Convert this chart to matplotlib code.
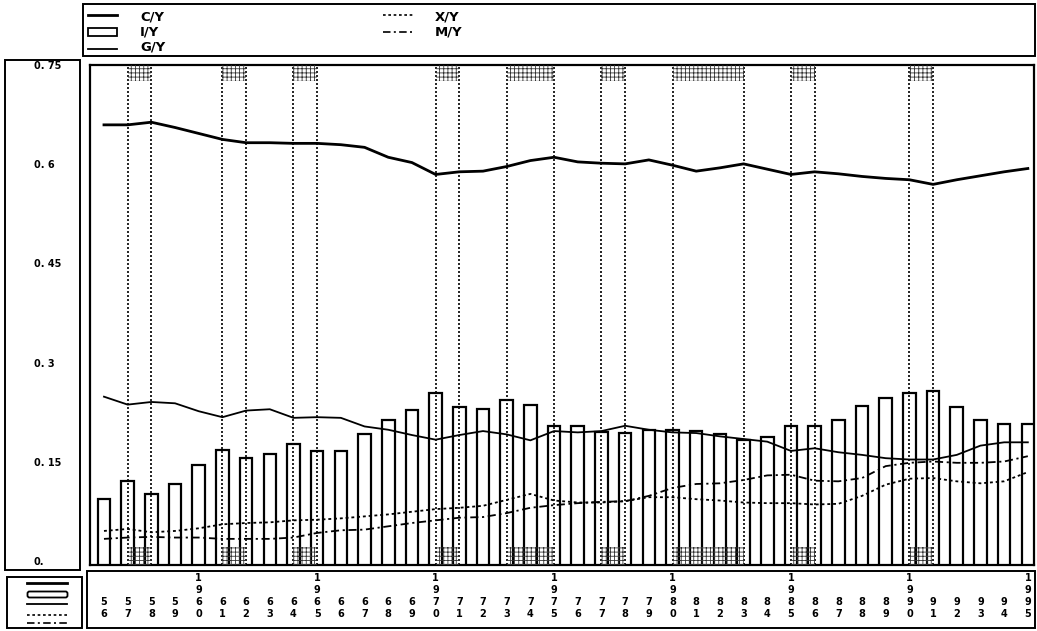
import matplotlib
matplotlib.use("Agg")
import matplotlib.pyplot as plt
import matplotlib.transforms as mtransforms
from matplotlib.patches import Rectangle, FancyBboxPatch
from matplotlib.lines import Line2D
import numpy as np

# ---- data: shares of output, 1956-1995 ----
years = list(range(1956, 1996))
c_y = [0.661, 0.661, 0.665, 0.657, 0.648, 0.639, 0.634, 0.634, 0.633, 0.633,
       0.631, 0.627, 0.612, 0.604, 0.586, 0.590, 0.591, 0.598, 0.607, 0.612,
       0.605, 0.603, 0.602, 0.608, 0.600, 0.591, 0.596, 0.602, 0.594, 0.586,
       0.590, 0.587, 0.583, 0.580, 0.578, 0.571, 0.578, 0.584, 0.590, 0.595]
i_y = [0.095, 0.122, 0.103, 0.118, 0.146, 0.170, 0.157, 0.163, 0.178, 0.168,
       0.168, 0.193, 0.214, 0.230, 0.256, 0.235, 0.231, 0.245, 0.237, 0.205,
       0.205, 0.197, 0.195, 0.200, 0.200, 0.198, 0.194, 0.185, 0.189, 0.205,
       0.205, 0.215, 0.236, 0.248, 0.256, 0.258, 0.235, 0.215, 0.208, 0.209]
g_y = [0.250, 0.238, 0.242, 0.240, 0.228, 0.219, 0.229, 0.231, 0.218, 0.219,
       0.218, 0.205, 0.200, 0.192, 0.185, 0.192, 0.198, 0.193, 0.184, 0.198,
       0.196, 0.198, 0.206, 0.200, 0.196, 0.195, 0.190, 0.186, 0.182, 0.168,
       0.172, 0.166, 0.162, 0.157, 0.155, 0.155, 0.162, 0.176, 0.181, 0.181]
x_y = [0.047, 0.050, 0.045, 0.047, 0.051, 0.057, 0.059, 0.060, 0.063, 0.064,
       0.066, 0.069, 0.072, 0.076, 0.080, 0.082, 0.085, 0.094, 0.103, 0.093,
       0.090, 0.090, 0.092, 0.098, 0.098, 0.095, 0.093, 0.090, 0.089, 0.089,
       0.087, 0.088, 0.100, 0.117, 0.126, 0.127, 0.122, 0.119, 0.122, 0.136]
m_y = [0.035, 0.037, 0.038, 0.037, 0.037, 0.035, 0.035, 0.035, 0.037, 0.044,
       0.048, 0.049, 0.054, 0.059, 0.063, 0.067, 0.068, 0.074, 0.082, 0.086,
       0.089, 0.091, 0.092, 0.100, 0.112, 0.118, 0.119, 0.124, 0.131, 0.132,
       0.123, 0.122, 0.127, 0.145, 0.150, 0.152, 0.150, 0.150, 0.152, 0.160]

# downturn periods (start, end years)
rec_start = [1957, 1961, 1964, 1970, 1973, 1977, 1980, 1985, 1990]
rec_end = [1958, 1962, 1965, 1971, 1975, 1978, 1983, 1986, 1991]

y_ticks = [0.0, 0.15, 0.3, 0.45, 0.6, 0.75]
y_tick_labels = ["0.", "0. 15", "0. 3", "0. 45", "0. 6", "0. 75"]
series_names = ["C/Y", "I/Y", "G/Y", "X/Y", "M/Y"]

# ---- styles ----
FONT = ["Liberation Sans Narrow", "DejaVu Sans"]
DOT = (0, (1.6, 1.6))
DASHDOT = (0, (4.5, 2.0, 1.2, 2.0))
plt.rcParams["hatch.linewidth"] = 0.6

W, H = 1037, 631
fig = plt.figure(figsize=(W / 100, H / 100), dpi=100)


def frac(x0, y0, x1, y1):
    return [x0 / W, 1 - y1 / H, (x1 - x0) / W, (y1 - y0) / H]


# background layer in pixel units for the boxes and the key
bg = fig.add_axes([0, 0, 1, 1])
bg.set_xlim(0, W)
bg.set_ylim(H, 0)
bg.axis("off")

ax = fig.add_axes(frac(90, 65, 1034, 565))
Y0, Y1 = -0.0045, 0.7515
ax.set_xlim(1955.41, 1995.26)
ax.set_ylim(Y0, Y1)
ax.set_xticks([])
ax.set_yticks([])
for s in ax.spines.values():
    s.set_linewidth(1.6)

# downturn markers: dotted boundaries and stippled bands
for s, e in zip(rec_start, rec_end):
    for xv in (s, e):
        ax.axvline(xv, color="black", ls=(0, (1.2, 1.2)), lw=1.2, zorder=4)
    ax.axvspan(s, e, ymin=0.968, ymax=1.0, facecolor="none", edgecolor="0.2",
               hatch="++++", lw=0, zorder=4)
    ax.axvspan(s, e, ymin=0.0, ymax=0.036, facecolor="none", edgecolor="0.2",
               hatch="++++", lw=0, zorder=4)

# investment share as bars
iy = np.array(i_y)
ax.bar(years, iy - Y0, bottom=Y0, width=0.53, facecolor="white",
       edgecolor="black", lw=1.6, zorder=3)

ax.plot(years, c_y, color="black", lw=2.0, zorder=6)
ax.plot(years, g_y, color="black", lw=1.3, zorder=6)
ax.plot(years, x_y, color="black", lw=1.3, ls=DOT, zorder=6)
ax.plot(years, m_y, color="black", lw=1.3, ls=DASHDOT, zorder=6)

# ---- y labels in the left panel ----
bg.add_patch(Rectangle((5, 60), 75, 510, fill=False, lw=1.4, ec="black"))
ytrans = mtransforms.blended_transform_factory(bg.transData, ax.transData)
for v, lab in zip(y_ticks, y_tick_labels):
    ax.text(34, v, lab, transform=ytrans, ha="left", va="center",
            fontsize=7, fontweight="heavy", family=FONT, clip_on=False)

# ---- year labels in the bottom panel ----
bg.add_patch(Rectangle((87, 571), 948, 57, fill=False, lw=1.4, ec="black"))
xtrans = mtransforms.blended_transform_factory(ax.transData, bg.transData)
rows = [578, 590, 602, 614]
for yr in years:
    s = str(yr)
    digits = list(s) if yr % 5 == 0 else list(s[2:])
    use_rows = rows if len(digits) == 4 else rows[2:]
    for d, ry in zip(digits, use_rows):
        ax.text(yr, ry, d, transform=xtrans, ha="center", va="center",
                fontsize=7, fontweight="heavy", family=FONT, clip_on=False)

# ---- small key in the lower left panel ----
bg.add_patch(Rectangle((7, 577), 75, 51, fill=False, lw=1.4, ec="black"))
bg.add_line(Line2D([27, 67], [583, 583], color="black", lw=2.0))
bg.add_patch(FancyBboxPatch((28, 592), 39, 5, boxstyle="round,pad=0.5,rounding_size=2",
                            fill=False, lw=1.3, ec="black"))
bg.add_line(Line2D([27, 67], [604, 604], color="black", lw=1.3))
bg.add_line(Line2D([27, 67], [615, 615], color="black", lw=1.2, ls=DOT))
bg.add_line(Line2D([27, 67], [623, 623], color="black", lw=1.2, ls=DASHDOT))

# ---- key across the top ----
bg.add_patch(Rectangle((83, 4), 952, 52, fill=False, lw=1.4, ec="black"))
bg.add_line(Line2D([88, 117], [15, 15], color="black", lw=2.0))
bg.add_patch(Rectangle((88, 28), 29, 8, fill=False, lw=1.3, ec="black"))
bg.add_line(Line2D([88, 117], [49, 49], color="black", lw=1.3))
bg.add_line(Line2D([383, 413], [15, 15], color="black", lw=1.2, ls=DOT))
bg.add_line(Line2D([383, 413], [32, 32], color="black", lw=1.2, ls=DASHDOT))
key_pos = [(140, 17), (140, 32), (140, 47), (435, 17), (435, 32)]
for name, (tx, ty) in zip(series_names, key_pos):
    bg.text(tx, ty, name, ha="left", va="center", fontsize=9.5,
            fontweight="heavy", family=FONT)

fig.savefig("out.png", dpi=100)
